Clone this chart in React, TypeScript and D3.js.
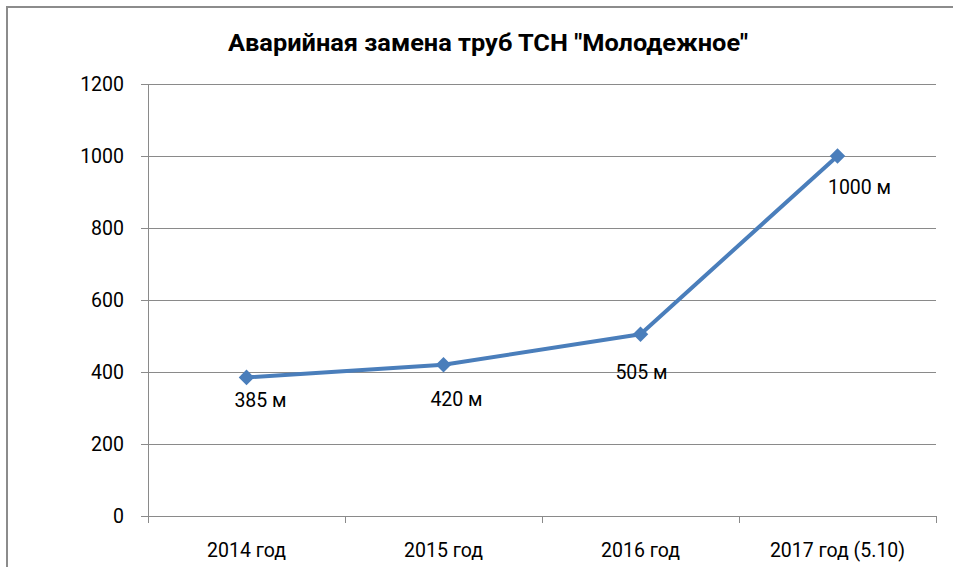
import React from "react";
import * as d3 from "d3";

const categories = ["2014 год", "2015 год", "2016 год", "2017 год (5.10)"];
const values = [385, 420, 505, 1000];
const valueLabels = ["385 м", "420 м", "505 м", "1000 м"];
const yTicks = [0, 200, 400, 600, 800, 1000, 1200];
const title = "Аварийная замена труб ТСН \"Молодежное\"";
// label placement offsets (dx, dy) relative to each point
const labelDx = [14, 13, 1, 22];
const labelDy = [23, 35, 38, 31];

const W = 953;
const H = 567;
const FONT = "Roboto, 'Open Sans', sans-serif";
const FS = 19.5;

export default function App() {
  const x = d3.scaleBand<string>().domain(categories).range([148, 936]).padding(0);
  const y = d3.scaleLinear().domain([0, 1200]).range([516, 84]);
  const cx = (c: string) => (x(c) ?? 0) + x.bandwidth() / 2;
  const pts = categories.map((c, i) => [cx(c), y(values[i])] as [number, number]);
  const line = d3.line()(pts) ?? "";
  const grid = "#8a8a8a";
  const xTickPos = [...categories.map((c) => x(c) ?? 0), 936];

  return (
    <svg width={W} height={H} style={{ position: "absolute", left: 0, top: 0, background: "#fff" }}>
      <line x1={6} x2={W} y1={7} y2={7} stroke="#8c8c8c" strokeWidth={2} />
      <line x1={7} x2={7} y1={6} y2={H} stroke="#8c8c8c" strokeWidth={2} />
      <text x={488} y={43} textAnchor="middle" dominantBaseline="central" fontFamily={FONT} fontWeight="bold" fontSize={24} textLength={520} lengthAdjust="spacingAndGlyphs" fill="#000">
        {title}
      </text>
      {yTicks.map((t) => (
        <g key={t}>
          <line x1={141} x2={936} y1={Math.round(y(t)) + 0.5} y2={Math.round(y(t)) + 0.5} stroke={grid} strokeWidth={1} />
          <text x={124} y={y(t)} textAnchor="end" dominantBaseline="central" fontFamily={FONT} fontSize={FS} fill="#000">
            {t}
          </text>
        </g>
      ))}
      <line x1={148.5} x2={148.5} y1={84} y2={516} stroke={grid} strokeWidth={1} />
      {xTickPos.map((p, i) => (
        <line key={i} x1={Math.round(p) + 0.5} x2={Math.round(p) + 0.5} y1={516} y2={523} stroke={grid} strokeWidth={1} />
      ))}
      {categories.map((c) => (
        <text key={c} x={cx(c)} y={550} textAnchor="middle" dominantBaseline="central" fontFamily={FONT} fontSize={FS} fill="#000">
          {c}
        </text>
      ))}
      <path d={line} fill="none" stroke="#4A7EBB" strokeWidth={4} strokeLinejoin="round" />
      {pts.map(([px, py], i) => (
        <rect key={i} x={px - 5.5} y={py - 5.5} width={11} height={11} fill="#4A7EBB" transform={`rotate(45 ${px} ${py})`} />
      ))}
      {pts.map(([px, py], i) => (
        <text key={"l" + i} x={px + labelDx[i]} y={py + labelDy[i]} textAnchor="middle" dominantBaseline="central" fontFamily={FONT} fontSize={FS} fill="#000">
          {valueLabels[i]}
        </text>
      ))}
    </svg>
  );
}
